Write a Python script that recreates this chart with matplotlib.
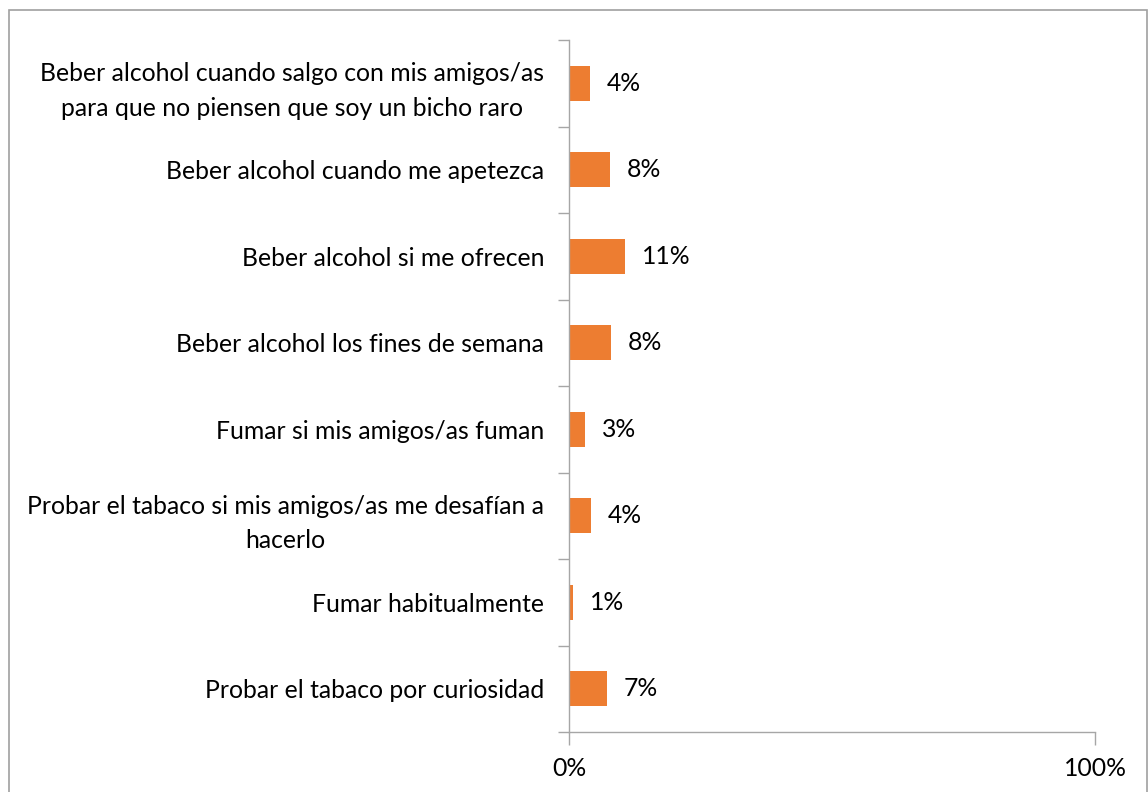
import numpy as np
import matplotlib
matplotlib.use("Agg")
import matplotlib.pyplot as plt
from matplotlib.patches import Rectangle

# survey answers, listed top to bottom
categories = [
    "Beber alcohol cuando salgo con mis amigos/as\npara que no piensen que soy un bicho raro",
    "Beber alcohol cuando me apetezca",
    "Beber alcohol si me ofrecen",
    "Beber alcohol los fines de semana",
    "Fumar si mis amigos/as fuman",
    "Probar el tabaco si mis amigos/as me desafían a\nhacerlo",
    "Fumar habitualmente",
    "Probar el tabaco por curiosidad",
]
values = [4.0, 7.7, 10.7, 7.9, 3.1, 4.2, 0.8, 7.2]
xticks = [0, 100]
xticklabels = ["0%", "100%"]

bar_color = "#ED7D31"
axis_color = "#A6A6A6"
font = "Lato"
fsize = 17.8

plt.rcParams["font.family"] = [font, "DejaVu Sans"]

W, H = 1148, 792
fig = plt.figure(figsize=(W / 100, H / 100), dpi=100)
ax = fig.add_axes([569 / W, 1 - 732 / H, (1095 - 569) / W, (732 - 40) / H])

pos = np.arange(len(categories))
bars = ax.barh(pos, values, height=0.4, color=bar_color)

for b, v in zip(bars, values):
    ax.text(b.get_width() + 3.2, b.get_y() + b.get_height() / 2, f"{v:.0f}%",
            va="center", ha="left", fontsize=fsize)

ax.set_xlim(0, 100)
ax.set_ylim(len(categories) - 0.5, -0.5)

ax.set_yticks(pos)
ax.set_yticklabels(categories, fontsize=fsize, multialignment="center",
                   linespacing=1.6)
ax.set_yticks(np.arange(len(categories) + 1) - 0.5, minor=True)
ax.tick_params(axis="y", which="major", length=0, pad=18)
ax.tick_params(axis="y", which="minor", length=8, color=axis_color, width=1)

ax.set_xticks(xticks)
ax.set_xticklabels(xticklabels, fontsize=fsize)
ax.tick_params(axis="x", length=9, color=axis_color, width=1, pad=9)

for side in ["top", "right"]:
    ax.spines[side].set_visible(False)
for side in ["left", "bottom"]:
    ax.spines[side].set_color(axis_color)
    ax.spines[side].set_linewidth(1)

# chart area border
fig.patches.append(Rectangle((9 / W, -0.01), 1 - 9 / W - 1.5 / W, 1 - 10 / H + 0.01,
                             transform=fig.transFigure, fill=False,
                             edgecolor="#A0A0A0", linewidth=1.2))

fig.savefig("out.png", dpi=100)
